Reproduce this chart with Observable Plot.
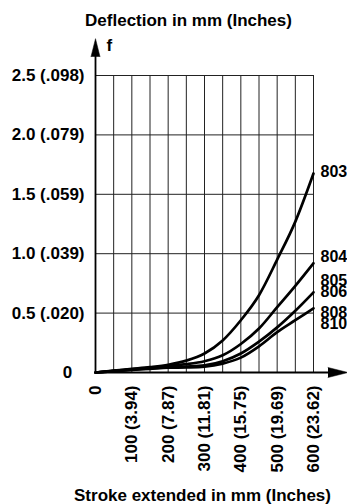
<!DOCTYPE html>
<html>
<head>
<meta charset="utf-8">
<script src="https://cdn.jsdelivr.net/npm/d3@7"></script>
<script src="https://cdn.jsdelivr.net/npm/@observablehq/plot@0.6"></script>
<style>
  html, body { margin: 0; padding: 0; background: #fff; }
  #chart { width: 347px; height: 504px; overflow: hidden; }
</style>
</head>
<body>
<div id="chart"></div>
<script>
// Stroke extended (mm)
const strokeMm = [0, 50, 100, 150, 200, 250, 300, 350, 400, 450, 500, 550, 600];
// Deflection (mm) per curve
const curve803  = [0, 0.015, 0.03, 0.045, 0.065, 0.10, 0.16, 0.27, 0.44, 0.65, 0.95, 1.27, 1.675];
const curve8040 = [0, 0.014, 0.027, 0.040, 0.055, 0.07, 0.095, 0.145, 0.24, 0.37, 0.55, 0.73, 0.92];
const curve8063 = [0, 0.012, 0.024, 0.034, 0.045, 0.05, 0.06, 0.095, 0.16, 0.26, 0.38, 0.52, 0.675];
const curve8100 = [0, 0.011, 0.022, 0.031, 0.040, 0.043, 0.05, 0.075, 0.125, 0.22, 0.34, 0.44, 0.54];
const curveNames = ["803", "8040", "8063", "8100"];

// Curve labels and the deflection at which each is written
const labelNames = ["803", "8040", "8050", "8063", "8080", "8100"];
const labelAt    = [1.69, 0.975, 0.775, 0.68, 0.50, 0.41];

// Axis ticks
const yTicks = [0, 0.5, 1.0, 1.5, 2.0, 2.5];
const yTickLabels = ["0", "0.5 (.020)", "1.0 (.039)", "1.5 (.059)", "2.0 (.079)", "2.5 (.098)"];
const xTicks = [0, 100, 200, 300, 400, 500, 600];
const xTickLabels = ["0", "100 (3.94)", "200 (7.87)", "300 (11.81)", "400 (15.75)", "500 (19.69)", "600 (23.62)"];
const xGrid = [0, 50, 100, 150, 200, 250, 300, 350, 400, 450, 500, 550, 600];
const yGrid = [0.5, 1.0, 1.5, 2.0, 2.5];
const yArrowTip = 2.81;
const xArrowTip = 695;

const series = [curve803, curve8040, curve8063, curve8100];
const rows = [];
series.forEach((vals, k) => vals.forEach((v, i) => rows.push({name: curveNames[k], x: strokeMm[i], y: v})));
const labels = labelNames.map((n, i) => ({name: n, y: labelAt[i]}));
const yLab = yTicks.map((t, i) => ({y: t, label: yTickLabels[i]}));
const xLab = xTicks.map((t, i) => ({x: t, label: xTickLabels[i]}));

const font = "'Liberation Sans', Arial, Helvetica, sans-serif";

const plot = Plot.plot({
  width: 347,
  height: 504,
  marginLeft: 95,
  marginRight: 34,
  marginTop: 75,
  marginBottom: 132,
  x: {domain: [0, 600], axis: null},
  y: {domain: [0, 2.5], axis: null},
  style: {fontFamily: font, fontWeight: "bold", background: "#fff", color: "#000", overflow: "hidden"},
  marks: [
    Plot.ruleX(xGrid, {x: d => d, y1: 0, y2: 2.5, stroke: "#222", strokeWidth: 1}),
    Plot.ruleY(yGrid, {y: d => d, x1: 0, x2: 600, stroke: "#222", strokeWidth: 1}),
    // axes with arrows
    Plot.ruleX([0], {y1: 0, y2: yArrowTip - 0.1, stroke: "#000", strokeWidth: 1.8}),
    Plot.ruleY([0], {x1: 0, x2: xArrowTip - 30, stroke: "#000", strokeWidth: 2.2}),
    Plot.vector([0], {x: 0, y: yArrowTip, length: 18, rotate: 0, anchor: "end", shape: "spike", r: 4.5, fill: "#000", stroke: "#000", strokeWidth: 0.5}),
    Plot.vector([0], {x: xArrowTip, y: 0, length: 20, rotate: 90, anchor: "end", shape: "spike", r: 5, fill: "#000", stroke: "#000", strokeWidth: 0.5}),
    // curves
    Plot.line(rows, {x: "x", y: "y", z: "name", curve: "monotone-x", stroke: "#000", strokeWidth: 2.7}),
    // curve labels
    Plot.text(labels, {x: 600, y: "y", text: "name", dx: 7, textAnchor: "start", lineAnchor: "middle", fontSize: 16, fontWeight: "bold", fill: "#000"}),
    // y tick labels
    Plot.text(yLab.filter(d => d.y > 0), {x: 0, y: "y", text: "label", dx: -11, textAnchor: "end", lineAnchor: "middle", fontSize: 17, fontWeight: "bold", fill: "#000"}),
    Plot.text(yLab.filter(d => d.y === 0), {x: 0, y: "y", text: "label", dx: -28, textAnchor: "middle", lineAnchor: "middle", fontSize: 17, fontWeight: "bold", fill: "#000"}),
    // x tick labels
    Plot.text(xLab, {x: "x", y: 0, text: "label", dy: 13, rotate: -90, textAnchor: "end", lineAnchor: "middle", fontSize: 17, fontWeight: "bold", fill: "#000"}),
    // titles
    Plot.text(["f"], {frameAnchor: "top-left", text: d => d, dx: 11, dy: -25, textAnchor: "start", lineAnchor: "bottom", fontSize: 17, fontWeight: "bold", fill: "#000"}),
    Plot.text(["Deflection in mm (Inches)"], {frameAnchor: "top-left", text: d => d, dx: 93, dy: -50, textAnchor: "middle", lineAnchor: "bottom", fontSize: 17, fontWeight: "bold", fill: "#000"}),
    Plot.text(["Stroke extended in mm (Inches)"], {frameAnchor: "bottom-left", text: d => d, dx: 107, dy: 128, textAnchor: "middle", lineAnchor: "bottom", fontSize: 17, fontWeight: "bold", fill: "#000"})
  ]
});
document.getElementById("chart").appendChild(plot);
</script>
</body>
</html>
